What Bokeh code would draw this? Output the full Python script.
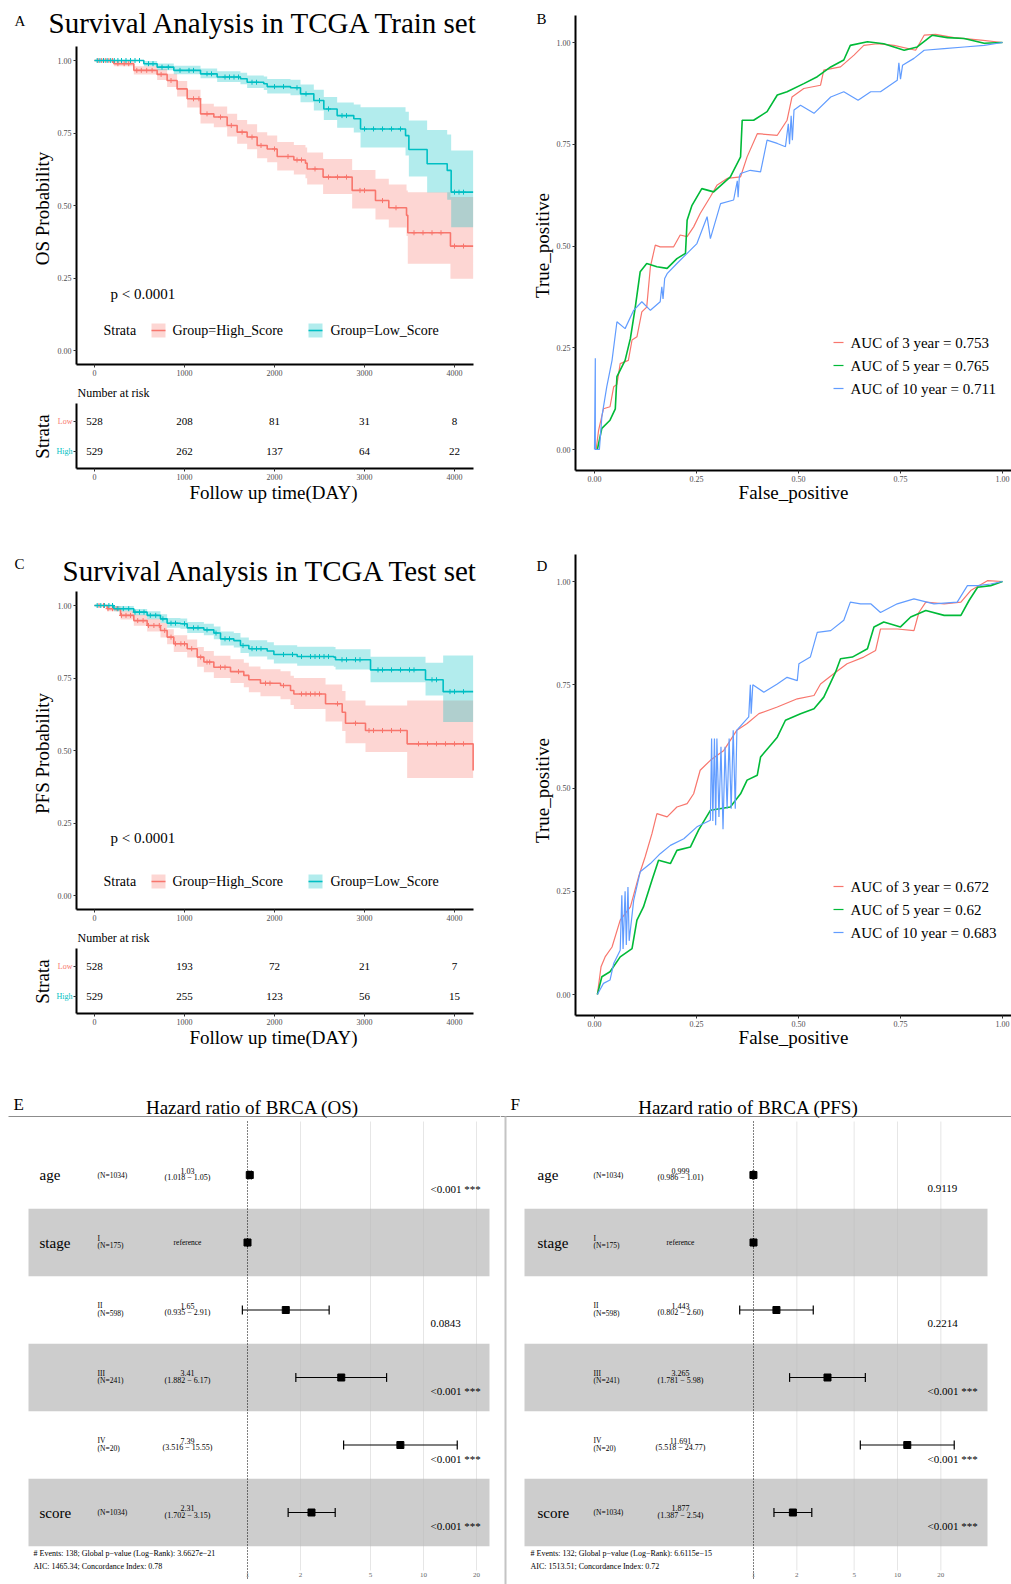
import numpy as np
from bokeh.plotting import figure
from bokeh.layouts import column, row
from bokeh.models import Range1d, FixedTicker, NumeralTickFormatter
from bokeh.embed import file_html
from bokeh.resources import INLINE
from bokeh.core.properties import value

FONT = "Liberation Serif"
RED = "#F8766D"
TEAL = "#00BFC4"
GREEN = "#00BA38"
BLUE = "#619CFF"

# ---------------- data: Kaplan-Meier, TCGA train (OS) ----------------
km_ticks = [0, 1000, 2000, 3000, 4000]
prob_ticks = [0, 0.25, 0.5, 0.75, 1.0]
km_end = 4207

a_high_t = [0, 215, 437, 696, 807, 918, 1030, 1178, 1326, 1474, 1585, 1696, 1807, 1919, 2030, 2215, 2344, 2363, 2540, 2863, 3122, 3270, 3467, 3481, 3955]
a_high_s = [1.0, 0.989, 0.966, 0.952, 0.931, 0.902, 0.868, 0.816, 0.805, 0.776, 0.753, 0.736, 0.707, 0.695, 0.669, 0.657, 0.646, 0.626, 0.598, 0.552, 0.517, 0.492, 0.466, 0.406, 0.360]
a_high_lo = [1.0, 0.980, 0.952, 0.933, 0.909, 0.876, 0.838, 0.783, 0.770, 0.738, 0.713, 0.694, 0.663, 0.649, 0.621, 0.607, 0.594, 0.572, 0.540, 0.490, 0.452, 0.424, 0.395, 0.299, 0.247]
a_high_hi = [1.0, 0.998, 0.980, 0.971, 0.954, 0.929, 0.899, 0.851, 0.841, 0.816, 0.795, 0.780, 0.753, 0.741, 0.719, 0.709, 0.700, 0.683, 0.660, 0.622, 0.592, 0.572, 0.552, 0.546, 0.529]
a_high_cens = [40, 80, 120, 160, 200, 260, 330, 380, 470, 520, 580, 640, 740, 850, 1100, 1160, 1250, 1400, 1520, 1640, 1750, 1850, 2000, 2150, 2250, 2300, 2450, 2600, 2700, 2800, 2950, 3000, 3200, 3350, 3550, 3650, 3750, 3850, 4000, 4100]

a_low_t = [0, 548, 696, 881, 1178, 1363, 1622, 1696, 1881, 1919, 2178, 2289, 2437, 2548, 2696, 2881, 2956, 3456, 3493, 3696, 3919, 3963]
a_low_s = [1.0, 0.989, 0.977, 0.966, 0.954, 0.943, 0.937, 0.925, 0.920, 0.910, 0.906, 0.885, 0.862, 0.833, 0.810, 0.799, 0.764, 0.741, 0.693, 0.644, 0.621, 0.546]
a_low_lo = [1.0, 0.980, 0.966, 0.953, 0.939, 0.926, 0.918, 0.905, 0.898, 0.886, 0.880, 0.856, 0.828, 0.795, 0.768, 0.752, 0.700, 0.672, 0.600, 0.545, 0.520, 0.425]
a_low_hi = [1.0, 0.998, 0.990, 0.982, 0.972, 0.963, 0.958, 0.948, 0.945, 0.936, 0.934, 0.917, 0.899, 0.874, 0.855, 0.848, 0.839, 0.823, 0.793, 0.760, 0.745, 0.690]
a_low_cens = [30, 60, 100, 140, 180, 220, 260, 300, 350, 400, 450, 500, 600, 650, 750, 820, 950, 1050, 1100, 1250, 1300, 1450, 1500, 1550, 1600, 1750, 1800, 2000, 2100, 2250, 2350, 2500, 2600, 2750, 2800, 3000, 3100, 3200, 3300, 3400, 4000, 4050, 4100]

a_risk_low = [528, 208, 81, 31, 8]
a_risk_high = [529, 262, 137, 64, 22]

# ---------------- data: Kaplan-Meier, TCGA test (PFS) ----------------
c_high_t = [0, 141, 289, 437, 585, 733, 807, 881, 1030, 1141, 1215, 1326, 1511, 1659, 1715, 1844, 2067, 2178, 2215, 2567, 2752, 2789, 3011, 3474, 4207]
c_high_s = [1.0, 0.989, 0.966, 0.948, 0.931, 0.914, 0.891, 0.868, 0.851, 0.822, 0.805, 0.787, 0.772, 0.759, 0.744, 0.732, 0.724, 0.707, 0.695, 0.661, 0.632, 0.594, 0.569, 0.523, 0.431]
c_high_lo = [1.0, 0.980, 0.952, 0.930, 0.910, 0.890, 0.866, 0.840, 0.821, 0.789, 0.770, 0.750, 0.733, 0.718, 0.701, 0.687, 0.677, 0.657, 0.643, 0.600, 0.567, 0.525, 0.495, 0.405, 0.405]
c_high_hi = [1.0, 0.998, 0.982, 0.968, 0.954, 0.940, 0.918, 0.897, 0.883, 0.857, 0.843, 0.827, 0.815, 0.803, 0.790, 0.780, 0.773, 0.758, 0.750, 0.728, 0.705, 0.672, 0.655, 0.672, 0.672]
c_high_cens = [50, 100, 150, 200, 250, 300, 350, 400, 480, 540, 600, 660, 720, 780, 850, 900, 960, 1000, 1080, 1180, 1250, 1280, 1400, 1450, 1600, 1900, 1950, 2100, 2300, 2350, 2400, 2450, 2500, 2700, 2900, 3050, 3100, 3200, 3300, 3400, 3600, 3700, 3800, 3900, 4000, 4100]

c_low_t = [0, 215, 437, 585, 733, 807, 955, 1030, 1215, 1326, 1400, 1548, 1622, 1715, 1919, 1993, 2252, 2659, 2678, 3067, 3678, 3874]
c_low_s = [1.0, 0.989, 0.977, 0.966, 0.954, 0.939, 0.937, 0.923, 0.916, 0.905, 0.885, 0.879, 0.862, 0.851, 0.843, 0.831, 0.824, 0.822, 0.813, 0.778, 0.744, 0.703]
c_low_lo = [1.0, 0.980, 0.966, 0.953, 0.940, 0.923, 0.920, 0.905, 0.897, 0.884, 0.862, 0.855, 0.836, 0.824, 0.814, 0.800, 0.792, 0.789, 0.779, 0.735, 0.690, 0.598]
c_low_hi = [1.0, 0.998, 0.988, 0.980, 0.970, 0.957, 0.955, 0.943, 0.937, 0.928, 0.910, 0.905, 0.890, 0.880, 0.873, 0.863, 0.858, 0.857, 0.849, 0.823, 0.803, 0.828]
c_low_cens = [30, 70, 110, 160, 200, 260, 320, 380, 450, 500, 550, 620, 680, 760, 850, 900, 1000, 1100, 1150, 1250, 1350, 1450, 1500, 1650, 1750, 1800, 1850, 2100, 2200, 2300, 2400, 2450, 2500, 2550, 2600, 2750, 2800, 2900, 2950, 3150, 3200, 3300, 3400, 3500, 3550, 3750, 3800, 3950, 4000, 4100]

c_risk_low = [528, 193, 72, 21, 7]
c_risk_high = [529, 255, 123, 56, 15]

# ---------------- data: time-dependent ROC ----------------
roc_ticks = [0, 0.25, 0.5, 0.75, 1.0]

b3_fpr = [0.004, 0.010, 0.022, 0.038, 0.047, 0.055, 0.063, 0.083, 0.092, 0.104, 0.116, 0.128, 0.137, 0.149, 0.161, 0.194, 0.210, 0.227, 0.243, 0.259, 0.284, 0.300, 0.325, 0.358, 0.374, 0.399, 0.448, 0.472, 0.484, 0.513, 0.554, 0.562, 0.603, 0.636, 0.660, 0.693, 0.734, 0.787, 0.808, 0.836, 0.881, 0.947, 1.0]
b3_tpr = [0.0, 0.047, 0.100, 0.105, 0.154, 0.160, 0.211, 0.219, 0.269, 0.277, 0.338, 0.350, 0.449, 0.502, 0.498, 0.498, 0.527, 0.523, 0.547, 0.580, 0.621, 0.649, 0.666, 0.670, 0.719, 0.776, 0.772, 0.809, 0.866, 0.887, 0.895, 0.932, 0.940, 0.969, 0.993, 0.997, 0.993, 0.981, 1.018, 1.020, 1.012, 1.006, 1.0]
b5_fpr = [0.007, 0.018, 0.038, 0.051, 0.055, 0.075, 0.088, 0.100, 0.112, 0.128, 0.153, 0.178, 0.202, 0.223, 0.227, 0.239, 0.263, 0.292, 0.333, 0.358, 0.362, 0.390, 0.423, 0.448, 0.472, 0.513, 0.546, 0.579, 0.611, 0.627, 0.669, 0.709, 0.759, 0.791, 0.828, 0.865, 0.906, 0.955, 1.0]
b5_tpr = [0.0, 0.052, 0.072, 0.100, 0.179, 0.219, 0.273, 0.350, 0.437, 0.457, 0.449, 0.445, 0.469, 0.482, 0.563, 0.600, 0.641, 0.633, 0.670, 0.719, 0.809, 0.809, 0.830, 0.871, 0.879, 0.899, 0.916, 0.940, 0.957, 0.993, 1.002, 0.997, 0.981, 0.989, 1.018, 1.012, 1.010, 0.998, 1.0]
b10_fpr = [0.0, 0.002, 0.002, 0.012, 0.018, 0.030, 0.043, 0.055, 0.075, 0.096, 0.116, 0.137, 0.161, 0.165, 0.168, 0.172, 0.178, 0.202, 0.227, 0.251, 0.276, 0.284, 0.309, 0.341, 0.350, 0.352, 0.355, 0.358, 0.382, 0.407, 0.423, 0.448, 0.468, 0.475, 0.478, 0.482, 0.485, 0.489, 0.505, 0.538, 0.579, 0.611, 0.646, 0.677, 0.701, 0.742, 0.746, 0.750, 0.755, 0.783, 0.808, 0.857, 0.906, 0.955, 1.0]
b10_tpr = [0.0, 0.224, 0.0, 0.0, 0.080, 0.154, 0.219, 0.314, 0.297, 0.342, 0.363, 0.342, 0.363, 0.400, 0.370, 0.420, 0.432, 0.457, 0.482, 0.506, 0.572, 0.518, 0.604, 0.613, 0.660, 0.620, 0.670, 0.678, 0.686, 0.682, 0.760, 0.752, 0.744, 0.800, 0.750, 0.820, 0.760, 0.834, 0.846, 0.826, 0.866, 0.879, 0.858, 0.879, 0.879, 0.907, 0.950, 0.910, 0.944, 0.961, 0.981, 0.985, 0.989, 0.993, 1.0]
b_auc_labels = ["AUC of 3 year = 0.753", "AUC of 5 year = 0.765", "AUC of 10 year = 0.711"]

d3_fpr = [0.007, 0.016, 0.026, 0.043, 0.063, 0.088, 0.108, 0.124, 0.141, 0.153, 0.178, 0.202, 0.227, 0.243, 0.259, 0.284, 0.317, 0.349, 0.374, 0.403, 0.448, 0.497, 0.538, 0.554, 0.587, 0.619, 0.660, 0.689, 0.701, 0.742, 0.783, 0.795, 0.812, 0.857, 0.898, 0.922, 0.963, 1.0]
d3_tpr = [0.0, 0.067, 0.091, 0.115, 0.180, 0.212, 0.285, 0.333, 0.390, 0.438, 0.430, 0.454, 0.462, 0.486, 0.543, 0.567, 0.591, 0.640, 0.656, 0.680, 0.696, 0.716, 0.724, 0.752, 0.777, 0.801, 0.817, 0.833, 0.885, 0.885, 0.881, 0.925, 0.950, 0.946, 0.950, 0.978, 1.002, 1.0]
d5_fpr = [0.007, 0.018, 0.038, 0.063, 0.092, 0.104, 0.120, 0.141, 0.157, 0.186, 0.202, 0.235, 0.255, 0.284, 0.333, 0.358, 0.374, 0.399, 0.407, 0.431, 0.448, 0.468, 0.505, 0.538, 0.562, 0.591, 0.603, 0.632, 0.669, 0.685, 0.709, 0.750, 0.775, 0.812, 0.857, 0.898, 0.918, 0.939, 0.971, 1.0]
d5_tpr = [0.0, 0.043, 0.055, 0.091, 0.111, 0.180, 0.212, 0.277, 0.325, 0.317, 0.349, 0.357, 0.398, 0.446, 0.454, 0.486, 0.519, 0.531, 0.575, 0.603, 0.623, 0.664, 0.680, 0.692, 0.720, 0.781, 0.813, 0.817, 0.837, 0.890, 0.902, 0.890, 0.914, 0.930, 0.918, 0.918, 0.954, 0.986, 0.990, 1.0]
d10_fpr = [0.007, 0.022, 0.038, 0.047, 0.063, 0.067, 0.070, 0.075, 0.078, 0.082, 0.085, 0.096, 0.112, 0.137, 0.161, 0.186, 0.219, 0.251, 0.284, 0.287, 0.290, 0.294, 0.297, 0.300, 0.305, 0.310, 0.315, 0.320, 0.325, 0.330, 0.335, 0.340, 0.345, 0.349, 0.378, 0.382, 0.384, 0.388, 0.415, 0.448, 0.472, 0.497, 0.501, 0.529, 0.546, 0.579, 0.611, 0.627, 0.652, 0.677, 0.701, 0.742, 0.783, 0.832, 0.889, 0.914, 0.939, 0.971, 1.0]
d10_tpr = [0.0, 0.027, 0.035, 0.075, 0.107, 0.240, 0.110, 0.250, 0.120, 0.260, 0.130, 0.228, 0.297, 0.317, 0.341, 0.361, 0.377, 0.406, 0.422, 0.620, 0.420, 0.620, 0.410, 0.620, 0.430, 0.600, 0.400, 0.600, 0.450, 0.620, 0.450, 0.640, 0.450, 0.640, 0.672, 0.750, 0.680, 0.750, 0.732, 0.752, 0.768, 0.760, 0.801, 0.817, 0.877, 0.881, 0.906, 0.950, 0.946, 0.946, 0.925, 0.946, 0.958, 0.946, 0.950, 0.990, 0.990, 0.994, 1.0]
d_auc_labels = ["AUC of 3 year = 0.672", "AUC of 5 year = 0.62", "AUC of 10 year = 0.683"]

# ---------------- data: forest plots ----------------
fp_vars = ["age", "stage", "", "", "", "score"]
fp_levels = ["", "I", "II", "III", "IV", ""]
fp_n = [1034, 175, 598, 241, 20, 1034]
forest_ticks = [1, 2, 5, 10, 20]

os_hr = [1.03, 1.0, 1.65, 3.41, 7.39, 2.31]
os_lo = [1.018, 1.0, 0.935, 1.882, 3.516, 1.702]
os_hi = [1.05, 1.0, 2.91, 6.17, 15.55, 3.15]
os_est = ["1.03", "", "1.65", "3.41", "7.39", "2.31"]
os_ci = ["(1.018 \u2212 1.05)", "reference", "(0.935 \u2212 2.91)", "(1.882 \u2212 6.17)", "(3.516 \u2212 15.55)", "(1.702 \u2212 3.15)"]
os_p = ["<0.001 ***", "", "0.0843", "<0.001 ***", "<0.001 ***", "<0.001 ***"]
os_note = ["# Events: 138; Global p\u2212value (Log\u2212Rank): 3.6627e\u221221", "AIC: 1465.34; Concordance Index: 0.78"]

pfs_hr = [0.999, 1.0, 1.443, 3.265, 11.691, 1.877]
pfs_lo = [0.986, 1.0, 0.802, 1.781, 5.518, 1.387]
pfs_hi = [1.01, 1.0, 2.60, 5.98, 24.77, 2.54]
pfs_est = ["0.999", "", "1.443", "3.265", "11.691", "1.877"]
pfs_ci = ["(0.986 \u2212 1.01)", "reference", "(0.802 \u2212 2.60)", "(1.781 \u2212 5.98)", "(5.518 \u2212 24.77)", "(1.387 \u2212 2.54)"]
pfs_p = ["0.9119", "", "0.2214", "<0.001 ***", "<0.001 ***", "<0.001 ***"]
pfs_note = ["# Events: 132; Global p\u2212value (Log\u2212Rank): 6.6115e\u221215", "AIC: 1513.51; Concordance Index: 0.72"]

TF = value(FONT)


# ---------------- helpers ----------------
def lmap(p0, v0, p1, v1):
    return lambda px: v0 + (px - p0) * (v1 - v0) / (p1 - p0)


def mkfig(ox, oy, w, h, X, Y):
    # the frame fills the whole canvas; axes are pinned with fixed_location
    p = figure(width=w, height=h, x_range=Range1d(X(ox), X(ox + w)), y_range=Range1d(Y(oy + h), Y(oy)),
               output_backend="svg", toolbar_location=None,
               min_border_left=0, min_border_right=0, min_border_top=0, min_border_bottom=0)
    p.grid.visible = False
    p.outline_line_color = None
    return p


def txt(p, x, y, text, size, align="left", color="black", angle=0):
    p.text(x=[x], y=[y], text=[text], text_font=TF, text_font_size=size, text_align=align,
           text_baseline="middle", text_color=color, angle=angle)


def style_axis(ax, ticks, fmt=None):
    ax.ticker = FixedTicker(ticks=ticks)
    if fmt:
        ax.formatter = NumeralTickFormatter(format=fmt)
    ax.axis_line_color = "black"
    ax.axis_line_width = 2
    ax.major_tick_line_color = "#333333"
    ax.major_tick_out = 3
    ax.major_tick_in = 0
    ax.minor_tick_line_color = None
    ax.major_label_text_font = FONT
    ax.major_label_text_font_size = "8px"
    ax.major_label_text_color = "#4d4d4d"
    ax.major_label_standoff = 2


def pin_axes(p, X, Y, xticks, xfmt, yticks, yfmt, left_px, right_px, top_px, bottom_px):
    style_axis(p.xaxis[0], xticks, xfmt)
    p.xaxis[0].fixed_location = Y(bottom_px)
    p.xaxis[0].bounds = (X(left_px), X(right_px))
    style_axis(p.yaxis[0], yticks, yfmt)
    p.yaxis[0].fixed_location = X(left_px)
    p.yaxis[0].bounds = (Y(bottom_px), Y(top_px))


def step_band(t, lo, hi, tend):
    xs, l2, h2 = [], [], []
    for i in range(len(t)):
        t1 = t[i + 1] if i + 1 < len(t) else tend
        xs += [t[i], t1]
        l2 += [lo[i], lo[i]]
        h2 += [hi[i], hi[i]]
    return xs, l2, h2


def surv_at(times, t, s):
    idx = np.searchsorted(np.array(t), np.array(times), side="right") - 1
    return [s[i] for i in idx]


def km_panel(oy, h, fy1, y0px, y1px, axis_top, letter, letter_xy, title, title_xy,
             ylabel, ylabel_y, curves, labels, p_y, ly):
    X = lmap(94, 0, 454, 4000)
    Y = lmap(y0px, 0, y1px, 1)
    p = mkfig(0, oy, 500, h, X, Y)
    pin_axes(p, X, Y, km_ticks, "0", prob_ticks, "0.00", 76, 473, axis_top, fy1)
    for color, t, s, lo, hi, cens in curves:
        xs, l2, h2 = step_band(t, lo, hi, km_end)
        p.varea(x=xs, y1=l2, y2=h2, fill_color=color, fill_alpha=0.3)
    for color, t, s, lo, hi, cens in curves:
        tt = list(t)
        ss = list(s)
        if tt[-1] < km_end:
            tt.append(km_end)
            ss.append(ss[-1])
        p.step(x=tt, y=ss, mode="after", line_color=color, line_width=1.6)
        p.scatter(x=cens, y=surv_at(cens, t, s), marker="cross", size=5,
                  line_color=color, line_width=1)
    txt(p, X(letter_xy[0]), Y(letter_xy[1]), letter, "15px")
    txt(p, X(title_xy[0]), Y(title_xy[1]), title, "29px")
    txt(p, X(42), Y(ylabel_y), ylabel, "19px", "center", "black", np.pi / 2)
    txt(p, X(110), Y(p_y), "p < 0.0001", "15px")
    txt(p, X(103), Y(ly), "Strata", "14px")
    for (color, *_), kx, tx, lbl in zip(curves, [151, 308], [172, 330], labels):
        p.quad(left=[X(kx)], right=[X(kx + 14)], top=[Y(ly - 7)], bottom=[Y(ly + 7)],
               fill_color=color, fill_alpha=0.3, line_color=None)
        p.segment(x0=[X(kx)], y0=[Y(ly)], x1=[X(kx + 14)], y1=[Y(ly)], line_color=color, line_width=1.6)
        txt(p, X(tx), Y(ly), lbl, "14px")
    return p


def risk_panel(oy, h, fy1, low_px, axis_top, low_vals, high_vals):
    X = lmap(94, 0, 454, 4000)
    Y = lmap(low_px + 30, 1, low_px, 2)
    p = mkfig(0, oy, 500, h, X, Y)
    pin_axes(p, X, Y, km_ticks, "0", [1, 2], None, 76, 473, axis_top, fy1)
    p.yaxis[0].major_label_text_alpha = 0
    p.text(x=km_ticks, y=[2] * len(low_vals), text=[str(v) for v in low_vals],
           text_font=TF, text_font_size="11px", text_align="center", text_baseline="middle")
    p.text(x=km_ticks, y=[1] * len(high_vals), text=[str(v) for v in high_vals],
           text_font=TF, text_font_size="11px", text_align="center", text_baseline="middle")
    txt(p, X(72), 2, "Low", "8px", "right", RED)
    txt(p, X(72), 1, "High", "8px", "right", TEAL)
    txt(p, X(77), Y(axis_top - 11), "Number at risk", "12px")
    txt(p, X(42), 1.5, "Strata", "19px", "center", "black", np.pi / 2)
    txt(p, X(273), Y(fy1 + 24), "Follow up time(DAY)", "19px", "center")
    return p


def roc_panel(oy, h, fy1, y0px, y1px, axis_top, letter, letter_y, ylabel_y, curves, labels, leg_y0):
    X = lmap(594, 0, 1002, 1)
    Y = lmap(y0px, 0, y1px, 1)
    p = mkfig(500, oy, 511, h, X, Y)
    pin_axes(p, X, Y, roc_ticks, "0.00", roc_ticks, "0.00", 575, 1011, axis_top, fy1)
    for (color, fpr, tpr, lw) in curves:
        p.line(x=fpr, y=tpr, line_color=color, line_width=lw)
    for i, ((color, fpr, tpr, lw), lbl) in enumerate(zip(curves, labels)):
        yy = leg_y0 + 23 * i
        p.segment(x0=[X(833)], y0=[Y(yy)], x1=[X(843)], y1=[Y(yy)], line_color=color, line_width=1.2)
        txt(p, X(850), Y(yy), lbl, "15px")
    txt(p, X(536), Y(letter_y), letter, "15px")
    txt(p, X(542), Y(ylabel_y), "True_positive", "19px", "center", "black", np.pi / 2)
    txt(p, X(793), Y(fy1 + 22), "False_positive", "19px", "center")
    return p


def forest_panel(ox, w, x1px, dec, band_px, cols, hr, lo, hi, est, ci, pv, note, title, letter):
    def X(px):
        return 10 ** ((px - x1px) / dec)

    def Y(py):
        return (py - 1174.5) / 67.5

    p = figure(width=w, height=526, x_axis_type="log",
               x_range=Range1d(X(ox), X(ox + w)), y_range=Range1d(Y(1584), Y(1058)),
               output_backend="svg", toolbar_location=None,
               min_border_left=0, min_border_right=0, min_border_top=0, min_border_bottom=0)
    p.axis.visible = False
    p.grid.visible = False
    p.outline_line_color = None
    rows = list(range(len(hr)))
    grid = forest_ticks[1:]
    p.segment(x0=grid, y0=[Y(1121)] * len(grid), x1=grid, y1=[Y(1570)] * len(grid),
              line_color="#e6e6e6", line_width=1)
    band_rows = [r for r in rows if r % 2 == 1]
    p.quad(left=[X(band_px[0])] * len(band_rows), right=[X(band_px[1])] * len(band_rows),
           top=[r - 0.5 for r in band_rows], bottom=[r + 0.5 for r in band_rows],
           fill_color="#b8b8b8", fill_alpha=0.7, line_color=None)
    p.segment(x0=[1], y0=[Y(1121)], x1=[1], y1=[Y(1580)], line_color="black",
              line_width=1, line_dash="1 2")
    # header rule and title
    p.segment(x0=[X(max(ox, 8))], y0=[Y(1116)], x1=[X(ox + w)], y1=[Y(1116)],
              line_color="#8c8c8c", line_width=1)
    if ox > 100:
        p.segment(x0=[X(505)], y0=[Y(1116)], x1=[X(505)], y1=[Y(1584)],
                  line_color="#c4c4c4", line_width=2)
    txt(p, X(cols["title"]), Y(1107), title, "19px", "center")
    txt(p, X(cols["letter"]), Y(1104), letter, "17px")
    # error bars and points
    p.segment(x0=lo, y0=rows, x1=hi, y1=rows, line_color="black", line_width=1.2)
    p.segment(x0=lo, y0=[r - 0.065 for r in rows], x1=lo, y1=[r + 0.065 for r in rows],
              line_color="black", line_width=1.2)
    p.segment(x0=hi, y0=[r - 0.065 for r in rows], x1=hi, y1=[r + 0.065 for r in rows],
              line_color="black", line_width=1.2)
    p.scatter(x=hr, y=rows, marker="square", size=7, fill_color="black", line_color="black")
    # text columns
    vr = [r for r in rows if fp_vars[r]]
    p.text(x=[X(cols["name"])] * len(vr), y=vr, text=[fp_vars[r] for r in vr], text_font=TF,
           text_font_size="15px", text_baseline="middle")
    for r in rows:
        if fp_levels[r]:
            p.text(x=[X(cols["n"])] * 2, y=[r - 0.06, r + 0.05],
                   text=[fp_levels[r], "(N=%d)" % fp_n[r]], text_font=TF, text_font_size="7.5px",
                   text_baseline="middle")
        else:
            txt(p, X(cols["n"]), r, "(N=%d)" % fp_n[r], "7.5px")
        if est[r]:
            p.text(x=[X(cols["est"])] * 2, y=[r - 0.06, r + 0.04], text=[est[r], ci[r]], text_font=TF,
                   text_font_size="8px", text_align="center", text_baseline="middle")
        else:
            txt(p, X(cols["est"]), r, ci[r], "7.5px", "center")
        if pv[r]:
            txt(p, X(cols["p"]), r + 0.2, pv[r], "11px")
    p.text(x=[X(cols["note"])] * 2, y=[Y(1553), Y(1566)], text=note, text_font=TF,
           text_font_size="8px", text_baseline="middle")
    p.text(x=forest_ticks, y=[Y(1574)] * len(forest_ticks), text=[str(t) for t in forest_ticks],
           text_font=TF, text_font_size="7px", text_color="#666666", text_align="center",
           text_baseline="middle")
    return p


# ---------------- panels ----------------
pA = km_panel(0, 382, 364, 350, 60, 46, "A", (14, 20), "Survival Analysis in TCGA Train set", (48, 22),
              "OS Probability", 208,
              [(RED, a_high_t, a_high_s, a_high_lo, a_high_hi, a_high_cens),
               (TEAL, a_low_t, a_low_s, a_low_lo, a_low_hi, a_low_cens)],
              ["Group=High_Score", "Group=Low_Score"], 293, 330)
pRA = risk_panel(382, 128, 468, 421, 403, a_risk_low, a_risk_high)

pB = roc_panel(0, 510, 470, 449, 42, 15, "B", 18, 245,
               [(RED, b3_fpr, b3_tpr, 1.2), (GREEN, b5_fpr, b5_tpr, 1.6), (BLUE, b10_fpr, b10_tpr, 1.2)],
               b_auc_labels, 342)

pC = km_panel(510, 416, 909, 895, 605, 591, "C", (14, 563), "Survival Analysis in TCGA Test set", (62, 570),
              "PFS Probability", 753,
              [(RED, c_high_t, c_high_s, c_high_lo, c_high_hi, c_high_cens),
               (TEAL, c_low_t, c_low_s, c_low_lo, c_low_hi, c_low_cens)],
              ["Group=High_Score", "Group=Low_Score"], 837, 881)
pRC = risk_panel(926, 132, 1013, 966, 948, c_risk_low, c_risk_high)

pD = roc_panel(510, 548, 1015, 994, 581, 554, "D", 565, 790,
               [(RED, d3_fpr, d3_tpr, 1.2), (GREEN, d5_fpr, d5_tpr, 1.6), (BLUE, d10_fpr, d10_tpr, 1.2)],
               d_auc_labels, 886)

pE = forest_panel(0, 500, 247, 176, (28, 489),
                  {"title": 252, "letter": 13, "name": 39, "n": 97, "est": 187, "p": 430, "note": 33},
                  os_hr, os_lo, os_hi, os_est, os_ci, os_p, os_note, "Hazard ratio of BRCA (OS)", "E")
pF = forest_panel(500, 511, 753, 144, (524, 987),
                  {"title": 748, "letter": 510, "name": 537, "n": 593, "est": 680, "p": 927, "note": 530},
                  pfs_hr, pfs_lo, pfs_hi, pfs_est, pfs_ci, pfs_p, pfs_note, "Hazard ratio of BRCA (PFS)", "F")

page = column(row(column(pA, pRA), pB),
              row(column(pC, pRC), pD),
              row(pE, pF))

open("out.html", "w").write(file_html(page, INLINE))
